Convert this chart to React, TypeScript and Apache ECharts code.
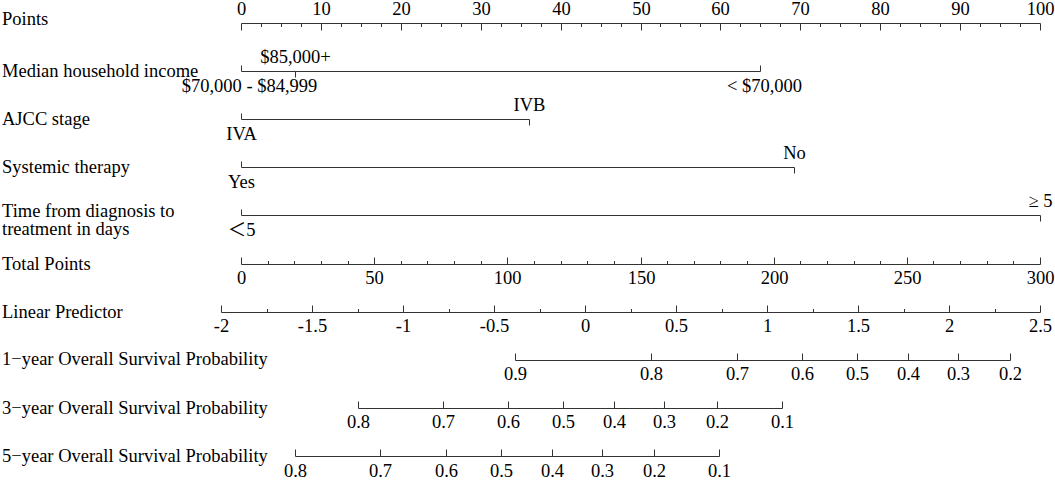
import React, { useEffect, useRef } from "react";
import * as echarts from "echarts";

// ---------- data ----------
const rowTitles = [
  "Points",
  "Median household income",
  "AJCC stage",
  "Systemic therapy",
  "Time from diagnosis to\ntreatment in days",
  "Total Points",
  "Linear Predictor",
  "1\u2212year Overall Survival Probability",
  "3\u2212year Overall Survival Probability",
  "5\u2212year Overall Survival Probability",
];

const pointsTicks = [0, 10, 20, 30, 40, 50, 60, 70, 80, 90, 100];

const incomeLevels = ["$70,000 - $84,999", "$85,000+", "< $70,000"];
const incomePoints = [0, 6.8, 65];
const incomeSides = ["below", "above", "below"];

const ajccLevels = ["IVA", "IVB"];
const ajccPoints = [0, 36];
const ajccSides = ["below", "above"];

const therapyLevels = ["Yes", "No"];
const therapyPoints = [0, 69.2];
const therapySides = ["below", "above"];

const timeLevels = ["\uFF1C5", "\u2265 5"];
const timePoints = [0, 100];
const timeSides = ["below", "above"];

const totalPointsTicks = [0, 50, 100, 150, 200, 250, 300];
const totalPointsMax = 300;

const lpTicks = [-2, -1.5, -1, -0.5, 0, 0.5, 1, 1.5, 2, 2.5];
// total points that line up with the first and last linear-predictor ticks
const lpTotalAtMin = -7.5;
const lpTotalAtMax = 300;

const surv1Labels = ["0.9", "0.8", "0.7", "0.6", "0.5", "0.4", "0.3", "0.2"];
const surv1LP = [-0.385, 0.363, 0.835, 1.192, 1.495, 1.775, 2.049, 2.335];

const surv3Labels = ["0.8", "0.7", "0.6", "0.5", "0.4", "0.3", "0.2", "0.1"];
const surv3LP = [-1.247, -0.78, -0.423, -0.121, 0.159, 0.434, 0.725, 1.082];

const surv5Labels = ["0.8", "0.7", "0.6", "0.5", "0.4", "0.3", "0.2", "0.1"];
const surv5LP = [-1.593, -1.126, -0.764, -0.462, -0.184, 0.093, 0.379, 0.734];

// ---------- styling ----------
const FONT_FAMILY = '"Liberation Serif", "Times New Roman", "DejaVu Serif", "Noto Sans CJK JP", serif';
const FONT_SIZE = 18.5;
const LINE_COLOR = "#333";
const TEXT_COLOR = "#000";
const MAJOR_LEN = 7;
const MINOR_LEN = 3.5;
const CAT_LEN = 6;
const LABEL_GAP = 14.5;

type Tick = { x: number; len: number; dir: "up" | "down"; label?: string; side?: "above" | "below"; dx?: number };
type Row = { y: number; from: number; to: number; ticks: Tick[] };

// scale conversions (all rows drawn on the Points scale)
const totalToPoints = (t: number) => (t / totalPointsMax) * 100;
const lpToPoints = (lp: number) => {
  const lo = lpTicks[0];
  const hi = lpTicks[lpTicks.length - 1];
  const t = lpTotalAtMin + ((lp - lo) / (hi - lo)) * (lpTotalAtMax - lpTotalAtMin);
  return totalToPoints(t);
};

function linearRow(y: number, majors: number[], minorPerInterval: number, toX: (v: number) => number, side: "above" | "below", fmt: (v: number) => string): Row {
  const dir = side === "above" ? "down" : "up";
  const ticks: Tick[] = [];
  majors.forEach((v, i) => {
    ticks.push({ x: toX(v), len: MAJOR_LEN, dir, label: fmt(v), side });
    if (i < majors.length - 1) {
      const step = (majors[i + 1] - v) / minorPerInterval;
      for (let k = 1; k < minorPerInterval; k++) ticks.push({ x: toX(v + k * step), len: MINOR_LEN, dir });
    }
  });
  return { y, from: toX(majors[0]), to: toX(majors[majors.length - 1]), ticks };
}

function catRow(y: number, levels: string[], pts: number[], sides: string[], dxs?: number[]): Row {
  const ticks: Tick[] = levels.map((lab, i) => ({
    x: pts[i],
    len: CAT_LEN,
    dir: sides[i] === "above" ? "down" : "up",
    label: lab,
    side: sides[i] as "above" | "below",
    dx: dxs ? dxs[i] : 0,
  }));
  return { y, from: Math.min(...pts), to: Math.max(...pts), ticks };
}

function survRow(y: number, labels: string[], lps: number[]): Row {
  const ticks: Tick[] = labels.map((lab, i) => ({ x: lpToPoints(lps[i]), len: MAJOR_LEN, dir: "up", label: lab, side: "below" }));
  const xs = ticks.map((t) => t.x);
  return { y, from: Math.min(...xs), to: Math.max(...xs), ticks };
}

const rows: Row[] = [
  linearRow(0, pointsTicks, 4, (v) => v, "above", (v) => String(v)),
  catRow(1, incomeLevels, incomePoints, incomeSides, [8, 0, 4]),
  catRow(2, ajccLevels, ajccPoints, ajccSides),
  catRow(3, therapyLevels, therapyPoints, therapySides),
  catRow(4, timeLevels, timePoints, timeSides),
  linearRow(5, totalPointsTicks, 5, totalToPoints, "below", (v) => String(v)),
  linearRow(6, lpTicks, 2, lpToPoints, "below", (v) => String(v)),
  survRow(7, surv1Labels, surv1LP),
  survRow(8, surv3Labels, surv3LP),
  survRow(9, surv5Labels, surv5LP),
];

const titleDy = [-4, 0, 0, 0, 5, 0, 0, -1, 0, 0];

function makeSeries(row: Row, title: string, tdy: number) {
  return {
    type: "custom",
    coordinateSystem: "cartesian2d",
    silent: true,
    clip: false,
    data: [[0, row.y]],
    renderItem: (_params: any, api: any) => {
      const yRaw = api.coord([0, row.y])[1];
      const y = Math.round(yRaw) + 0.5;
      const children: any[] = [];
      const x0 = Math.round(api.coord([row.from, row.y])[0]) + 0.5;
      const x1 = Math.round(api.coord([row.to, row.y])[0]) + 0.5;
      children.push({
        type: "text",
        x: 2,
        y: yRaw + tdy,
        style: {
          text: title,
          font: `${FONT_SIZE}px ${FONT_FAMILY}`,
          fill: TEXT_COLOR,
          align: "left",
          verticalAlign: "middle",
          lineHeight: 18,
        },
      });
      children.push({ type: "line", shape: { x1: x0, y1: y, x2: x1, y2: y }, style: { stroke: LINE_COLOR, lineWidth: 1 } });
      row.ticks.forEach((t) => {
        const x = Math.round(api.coord([t.x, row.y])[0]) + 0.5;
        const d = t.dir === "up" ? -1 : 1;
        children.push({ type: "line", shape: { x1: x, y1: y, x2: x, y2: y + d * t.len }, style: { stroke: LINE_COLOR, lineWidth: 1 } });
        if (t.label != null) {
          children.push({
            type: "text",
            x: x + (t.dx || 0),
            y: t.side === "above" ? yRaw - LABEL_GAP : yRaw + LABEL_GAP,
            style: {
              text: t.label,
              font: `${FONT_SIZE}px ${FONT_FAMILY}`,
              fill: TEXT_COLOR,
              align: "center",
              verticalAlign: "middle",
            },
          });
        }
      });
      return { type: "group", children };
    },
  };
}

export default function App() {
  const ref = useRef<HTMLDivElement>(null);
  useEffect(() => {
    if (!ref.current) return;
    const chart = echarts.init(ref.current, undefined, { renderer: "svg" });
    chart.setOption({
      animation: false,
      backgroundColor: "#fff",
      grid: { left: 241, right: 15, top: 23, bottom: 24, containLabel: false },
      xAxis: { type: "value", min: 0, max: 100, show: false },
      yAxis: { type: "value", min: 0, max: 9, inverse: true, show: false },
      series: rows.map((r, i) => makeSeries(r, rowTitles[i], titleDy[i])),
    });
    return () => chart.dispose();
  }, []);
  return <div ref={ref} style={{ position: "fixed", left: 0, top: 0, width: 1055, height: 480, background: "#fff" }} />;
}
